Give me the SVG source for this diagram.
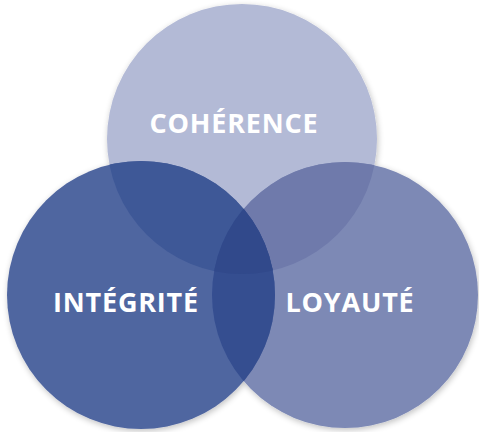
<svg xmlns="http://www.w3.org/2000/svg" width="479" height="432" viewBox="0 0 479 432">
<defs>
<style>
.lbl{font-family:"Open Sans","Liberation Sans",sans-serif;font-weight:bold;font-size:27px;letter-spacing:0.8px;fill:#ffffff;text-anchor:middle}
</style>
<clipPath id="cT"><circle cx="242" cy="139" r="135"/></clipPath>
<clipPath id="cL"><circle cx="141" cy="295" r="134"/></clipPath>
<clipPath id="cR"><circle cx="345" cy="295" r="133"/></clipPath>
<filter id="sh" x="-10%" y="-10%" width="120%" height="120%"><feGaussianBlur in="SourceAlpha" stdDeviation="3"/><feOffset dx="1" dy="2"/><feComponentTransfer><feFuncA type="linear" slope="0.25"/></feComponentTransfer><feMerge><feMergeNode/><feMergeNode in="SourceGraphic"/></feMerge></filter>
</defs>
<rect width="479" height="432" fill="#ffffff"/>
<g filter="url(#sh)">
<g id="coherence"><circle cx="242" cy="139" r="135" fill="#b3bad6"/></g>
<g id="loyaute"><circle cx="345" cy="295" r="133" fill="#7d89b5"/></g>
<g id="integrite"><circle cx="141" cy="295" r="134" fill="#5066a0"/></g>
</g>
<g id="overlaps">
<g clip-path="url(#cT)"><circle cx="345" cy="295" r="133" fill="#6f7aab"/><circle cx="141" cy="295" r="134" fill="#3e5897"/></g>
<g clip-path="url(#cL)"><circle cx="345" cy="295" r="133" fill="#354e90"/></g>
<g clip-path="url(#cT)"><g clip-path="url(#cL)"><circle cx="345" cy="295" r="133" fill="#31498b"/></g></g>
</g>
<text class="lbl" x="234" y="133">COHÉRENCE</text>
<text class="lbl" x="126" y="312">INTÉGRITÉ</text>
<text class="lbl" x="350" y="312">LOYAUTÉ</text>
</svg>
